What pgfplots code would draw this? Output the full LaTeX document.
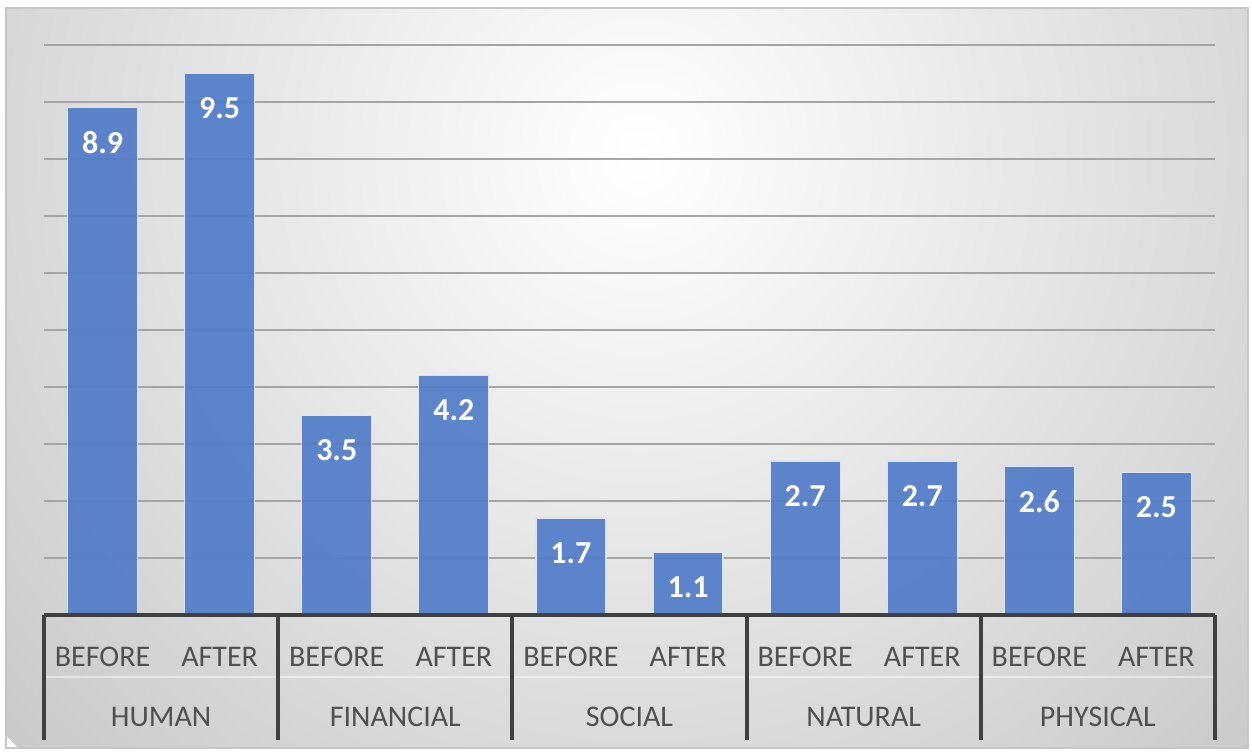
\documentclass[border=0pt]{standalone}
\usepackage{pgfplots}
\pgfplotsset{compat=1.18}
\usepackage{fontspec}
\setmainfont{Carlito}
\definecolor{barblue}{RGB}{78,122,200}
\definecolor{gridgray}{RGB}{165,165,165}
\definecolor{axisdark}{RGB}{64,64,64}
\definecolor{labelgray}{RGB}{80,80,80}
\begin{document}
\begin{tikzpicture}
\useasboundingbox (0,0) rectangle (626pt,377pt);
\fill[white] (0,0) rectangle (626pt,377pt);
\begin{scope}
\clip (3pt,3pt) rectangle (624pt,373pt);
\shade[inner color=white, outer color=gray!42] (320pt,300pt) circle (430pt);
\end{scope}
\draw[gray!45, line width=0.6pt] (3pt,3pt) rectangle (624pt,373pt);
\begin{axis}[
  at={(22pt,69.5pt)}, anchor=south west,
  scale only axis, width=585.5pt, height=285pt,
  xmin=-0.5, xmax=9.5, ymin=0, ymax=10,
  clip=false,
  axis line style={draw=none},
  tick style={draw=none},
  major tick length=0pt,
  ytick={1,2,3,4,5,6,7,8,9,10}, yticklabels={},
  ymajorgrids, grid style={gridgray, line width=1.2pt},
  xtick={0,1,2,3,4,5,6,7,8,9},
  xticklabels={BEFORE,AFTER,BEFORE,AFTER,BEFORE,AFTER,BEFORE,AFTER,BEFORE,AFTER},
  xticklabel style={font=\fontsize{15}{18}\selectfont, text=labelgray, anchor=center, yshift=-21pt},
  ybar, bar width=35pt,
  nodes near coords={\pgfmathprintnumber[fixed, fixed zerofill, precision=1, assume math mode=true]{\pgfplotspointmeta}},
  every node near coord/.append style={font=\bfseries\fontsize{16}{19}\selectfont, text=white, anchor=center, yshift=-17.5pt},
]
\addplot[fill=barblue, fill opacity=0.9, text opacity=1, draw=white!80!barblue, line width=0.6pt] coordinates {
(0,8.9) (1,9.5) (2,3.5) (3,4.2) (4,1.7) (5,1.1) (6,2.7) (7,2.7) (8,2.6) (9,2.5)};
\draw[white, opacity=0.45, line width=0.8pt] (axis cs:-0.5,-1.09) -- (axis cs:9.5,-1.09);
\draw[axisdark, line width=2pt] (axis cs:-0.5,0) -- (axis cs:9.5,0);
\draw[axisdark, line width=2pt] (axis cs:-0.5,0) -- (axis cs:-0.5,-2.19);
\draw[axisdark, line width=2pt] (axis cs:1.5,0) -- (axis cs:1.5,-2.19);
\draw[axisdark, line width=2pt] (axis cs:3.5,0) -- (axis cs:3.5,-2.19);
\draw[axisdark, line width=2pt] (axis cs:5.5,0) -- (axis cs:5.5,-2.19);
\draw[axisdark, line width=2pt] (axis cs:7.5,0) -- (axis cs:7.5,-2.19);
\draw[axisdark, line width=2pt] (axis cs:9.5,0) -- (axis cs:9.5,-2.19);
\node[font=\fontsize{15}{18}\selectfont, text=labelgray, anchor=center] at (axis cs:0.5,-1.79) {HUMAN};
\node[font=\fontsize{15}{18}\selectfont, text=labelgray, anchor=center] at (axis cs:2.5,-1.79) {FINANCIAL};
\node[font=\fontsize{15}{18}\selectfont, text=labelgray, anchor=center] at (axis cs:4.5,-1.79) {SOCIAL};
\node[font=\fontsize{15}{18}\selectfont, text=labelgray, anchor=center] at (axis cs:6.5,-1.79) {NATURAL};
\node[font=\fontsize{15}{18}\selectfont, text=labelgray, anchor=center] at (axis cs:8.5,-1.79) {PHYSICAL};
\end{axis}
\end{tikzpicture}
\end{document}
